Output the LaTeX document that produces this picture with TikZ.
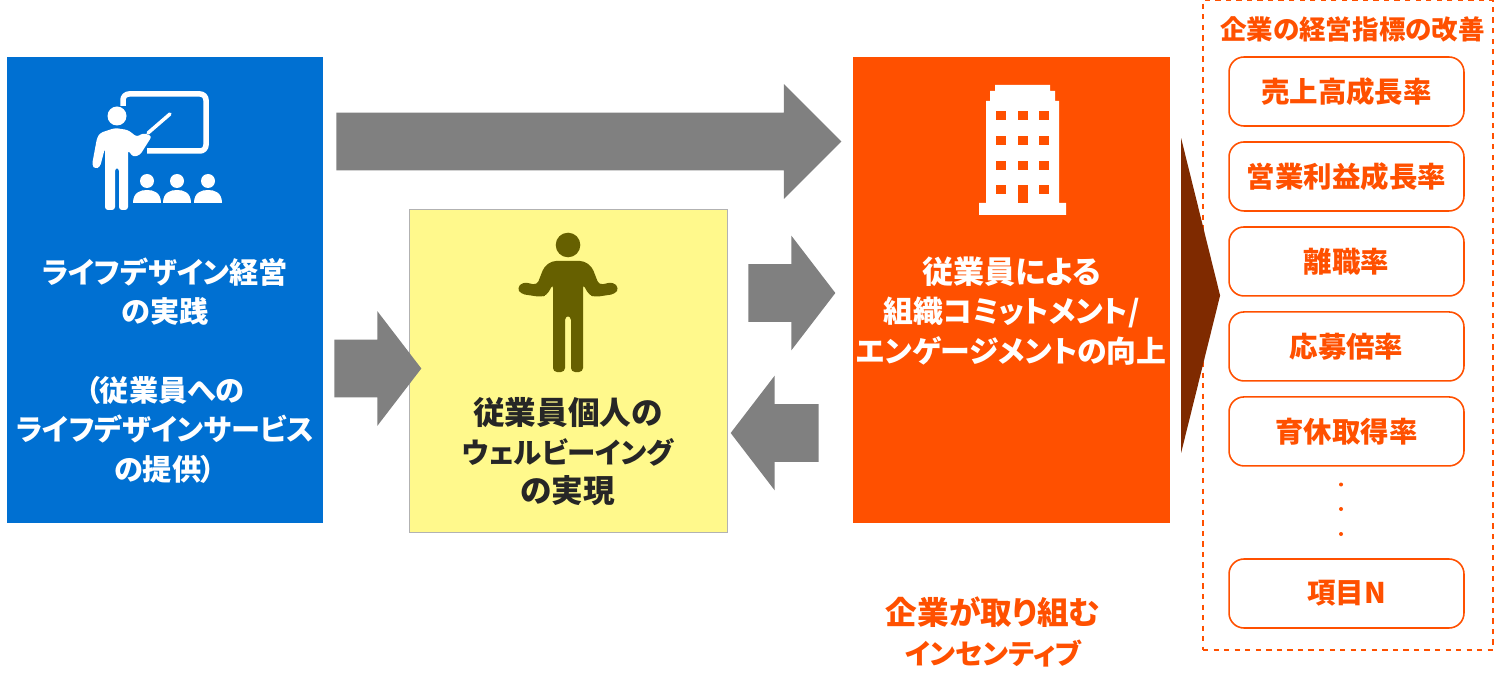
\documentclass[tikz,border=0pt]{standalone}
\usepackage{xcolor}
\usepackage{fontspec}
\setmainfont[RawFeature=+palt]{Noto Sans CJK JP}
\usepackage{tikz}
\usetikzlibrary{shapes.arrows,shapes.geometric}
\definecolor{ldblue}{HTML}{0070D2}
\definecolor{wbyellow}{HTML}{FFF98C}
\definecolor{wbolive}{HTML}{666000}
\definecolor{coorange}{HTML}{FF5000}
\definecolor{arrowgray}{HTML}{808080}
\definecolor{arrowbrown}{HTML}{7F2A00}
\newcommand{\kanasize}[1]{\fontsize{#1}{22.4}\selectfont}
\tikzset{
  panel/.style={rectangle,minimum width=6.34cm,minimum height=9.32cm,inner sep=0pt},
  bigarrow/.style={single arrow,fill=arrowgray,inner xsep=0pt,inner ysep=0.57cm,minimum width=2.28cm,single arrow head extend=0.57cm,single arrow head indent=0pt,anchor=tail},
  kpibox/.style={rectangle,rounded corners=0.3cm,draw=coorange,line width=0.9pt,minimum width=4.7cm,minimum height=1.38cm,inner sep=0pt,text=coorange,font=\fontsize{16.2}{20}\selectfont\bfseries},
  paneltext/.style={align=center,inner sep=0pt,font=\fontsize{16.6}{22.4}\selectfont\bfseries}
}

\begin{document}
\begin{tikzpicture}[x=0.02cm,y=-0.02cm,node distance = 1.7cm]
\useasboundingbox (0,0) rectangle (1500,692);

\node[panel,fill=ldblue] (P) at (165,290) {};
\node[panel,fill=wbyellow,draw=black!30,minimum height=6.46cm,minimum width=6.36cm] (W) at (568,370.5) {};
\node[panel,fill=coorange] (C) at (1011.5,290) {};
\node[rectangle,draw=coorange,dashed,line width=0.8pt,minimum width=5.8cm,minimum height=13cm,inner sep=0pt] (K) at (1348,325) {};

\node[bigarrow,minimum height=10.1cm] (PC) at (336,141.5) {};
\node[bigarrow,single arrow tip angle=105,minimum height=1.74cm] (PW) at (334,368.5) {};
\node[bigarrow,single arrow tip angle=105,minimum height=1.74cm] (WC) at (748,293) {};
\node[bigarrow,single arrow tip angle=105,minimum height=1.76cm,shape border rotate=180] (CW) at (819,433) {};
\node[isosceles triangle,isosceles triangle stretches,fill=arrowbrown,minimum height=0.78cm,minimum width=6.3cm,inner sep=0pt,anchor=apex] (CK) at (1221,295.5) {};

\node[paneltext,text=white] (Ptext) at (165,370.5) {ライフデザイン経営\\の実践\\ \\（従業員への\\ライフデザインサービス\\の提供）};
\node[paneltext,text=black!85,font=\fontsize{18}{22.4}\selectfont\bfseries] (Wtext) at (568,451.5) {従業員個人の\\{\kanasize{16.2}ウェルビーイング}\\の実現};
\node[paneltext,text=white,font=\fontsize{17}{22.4}\selectfont\bfseries] (Ctext) at (1011.5,311) {{\kanasize{17.7}従業員による}\\組織コミットメント/\\エンゲージメントの向上};
\node[paneltext,text=coorange,font=\fontsize{18}{22.4}\selectfont\bfseries] (Cnote) at (993,632) {企業が取り組む\\{\kanasize{16}インセンティブ}};
\node[text=coorange,inner sep=0pt,font=\fontsize{15.1}{18}\selectfont\bfseries] (Ktitle) at (1352.5,29.5) {企業の経営指標の改善};

\node[kpibox] (K1) at (1346.5,91.5) {売上高成長率};
\node[kpibox] (K2) [below of = K1] {営業利益成長率};
\node[kpibox] (K3) [below of = K2] {離職率};
\node[kpibox] (K4) [below of = K3] {応募倍率};
\node[kpibox] (K5) [below of = K4] {育休取得率};
\node[kpibox] (KN) at (1346.5,593.5) {項目N};
\foreach \y in {484.5,509,534} \fill[coorange] (1341,\y) circle [radius=2];

\draw[white,line width=1.1mm,rounded corners=0.12cm] (123,106) -- (123,94) -- (206,94) -- (206,151) -- (147,151);
\fill[white] (117,116) circle [radius=9.5];
\fill[white,rounded corners=0.06cm] (100,133) -- (115,128) -- (128,130) -- (137,137) -- (143,133) -- (152,136) -- (140,155) -- (133,157) -- (128,150) -- (128,210) -- (119,210) -- (119,168) -- (115,168) -- (115,210) -- (105,210) -- (105,148) -- (100,167) -- (95,169) -- (92,165) -- (97,138) -- cycle;
\draw[white,line width=0.7mm,line cap=round] (148,133) -- (170,114);
\foreach \x in {147,177,208} {
  \fill[white] (\x,181) circle [radius=7];
  \fill[white] (\x-14,203) .. controls (\x-14,192) and (\x-6,190) .. (\x,190) .. controls (\x+6,190) and (\x+14,192) .. (\x+14,203) -- cycle;
}

\fill[wbolive] (568,245) circle [radius=12.3];
\fill[wbolive,rounded corners=0.08cm] (553,372) -- (553,284) -- (547,295) -- (541,297) -- (521,294) -- (517,288) -- (523,282) -- (537,285) -- (544,267) -- (552,261) -- (568,261) -- (584,261) -- (592,267) -- (599,285) -- (613,282) -- (619,288) -- (615,294) -- (595,297) -- (589,295) -- (583,284) -- (583,372) -- (571,372) -- (571,316) -- (565,316) -- (565,372) -- cycle;

\fill[white] (995,85) -- (1050,85) -- (1050,91) -- (1055,91) -- (1055,101) -- (1059,101) -- (1059,203) -- (1066,203) -- (1066,215) -- (979,215) -- (979,203) -- (986,203) -- (986,101) -- (990,101) -- (990,91) -- (995,91) -- cycle;
\foreach \x in {996,1018,1039} \foreach \y in {111,136,161,185} \fill[coorange] (\x,\y) rectangle ++(9.5,9.5);
\fill[coorange] (1018,185) rectangle (1027.5,203);

\end{tikzpicture}
\end{document}
